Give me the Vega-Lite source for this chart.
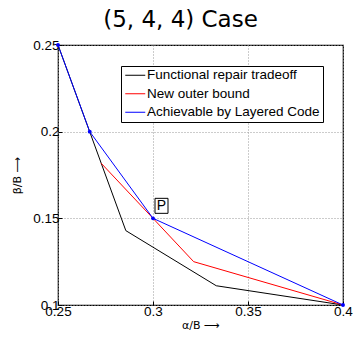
{
  "$schema": "https://vega.github.io/schema/vega-lite/v6.json",
  "width": 285,
  "height": 260,
  "autosize": "none",
  "padding": {"left": 58, "top": 45, "right": 12, "bottom": 33},
  "background": "white",
  "title": {"text": "(5, 4, 4) Case", "font": "DejaVu Sans", "fontSize": 23, "fontWeight": "normal", "color": "#000", "anchor": "middle", "dx": -20, "offset": 6},
  "config": {
    "view": {"stroke": "#000", "strokeWidth": 1.2},
    "axis": {"labelFont": "Liberation Sans", "labelFontSize": 13.5, "labelColor": "#000", "labelFlush": false, "titleFont": "DejaVu Sans", "titleFontSize": 11, "titleFontWeight": "normal", "titleColor": "#000", "domain": false, "gridColor": "#999", "gridDash": [1, 2], "gridWidth": 1, "tickColor": "#000", "tickSize": -4, "labelPadding": 3}
  },
  "data": {"values": [
    {"s": "Functional repair tradeoff", "o": 1, "a": 0.25, "b": 0.25},
    {"s": "Functional repair tradeoff", "o": 2, "a": 0.2857, "b": 0.1429},
    {"s": "Functional repair tradeoff", "o": 3, "a": 0.3333, "b": 0.1111},
    {"s": "Functional repair tradeoff", "o": 4, "a": 0.4, "b": 0.1},
    {"s": "New outer bound", "o": 1, "a": 0.2727, "b": 0.1818},
    {"s": "New outer bound", "o": 2, "a": 0.3, "b": 0.15},
    {"s": "New outer bound", "o": 3, "a": 0.3214, "b": 0.125},
    {"s": "New outer bound", "o": 4, "a": 0.4, "b": 0.1},
    {"s": "Achievable by Layered Code", "o": 1, "a": 0.25, "b": 0.25},
    {"s": "Achievable by Layered Code", "o": 2, "a": 0.2667, "b": 0.2},
    {"s": "Achievable by Layered Code", "o": 3, "a": 0.3, "b": 0.15},
    {"s": "Achievable by Layered Code", "o": 4, "a": 0.4, "b": 0.1}
  ]},
  "encoding": {
    "x": {"field": "a", "type": "quantitative", "scale": {"domain": [0.25, 0.4], "nice": false, "zero": false}, "axis": {"values": [0.25, 0.3, 0.35, 0.4], "format": ".2~f", "title": "α/B ⟶", "titlePadding": 2}},
    "y": {"field": "b", "type": "quantitative", "scale": {"domain": [0.1, 0.25], "nice": false, "zero": false}, "axis": {"values": [0.1, 0.15, 0.2, 0.25], "format": ".2~f", "title": "β/B ⟶", "titlePadding": 10}}
  },
  "layer": [
    {
      "mark": {"type": "line", "strokeWidth": 1, "clip": false},
      "encoding": {
        "color": {"field": "s", "type": "nominal", "scale": {"domain": ["Functional repair tradeoff", "New outer bound", "Achievable by Layered Code"], "range": ["#000000", "#ff0000", "#0000ff"]},
          "legend": {"title": null, "orient": "none", "legendX": 63, "legendY": 21, "symbolType": "M-1,0H3", "symbolSize": 100, "symbolStrokeWidth": 1, "labelFont": "Liberation Sans", "labelFontSize": 13.5, "labelColor": "#000", "labelLimit": 0, "labelOffset": 10, "rowPadding": 3.5, "padding": 2.5, "strokeColor": "#000", "fillColor": "#fff", "cornerRadius": 0}},
        "order": {"field": "o", "type": "quantitative"}
      }
    },
    {
      "transform": [{"filter": "datum.s === 'Achievable by Layered Code'"}],
      "mark": {"type": "point", "filled": true, "size": 15, "color": "#0000ff", "opacity": 1, "clip": false}
    },
    {
      "data": {"values": [{"a": 0.3, "b": 0.15, "t": "P"}]},
      "layer": [
        {"mark": {"type": "point", "shape": "M0.267,-2.667H2V-0.667H0.267Z", "size": 225, "filled": false, "stroke": "#000", "strokeWidth": 1, "fill": "#fff", "fillOpacity": 1, "opacity": 1}},
        {"mark": {"type": "text", "text": "P", "font": "Liberation Sans", "fontSize": 14, "dx": 8.5, "dy": -12.5, "align": "center", "baseline": "middle", "color": "#000"}}
      ]
    }
  ]
}
